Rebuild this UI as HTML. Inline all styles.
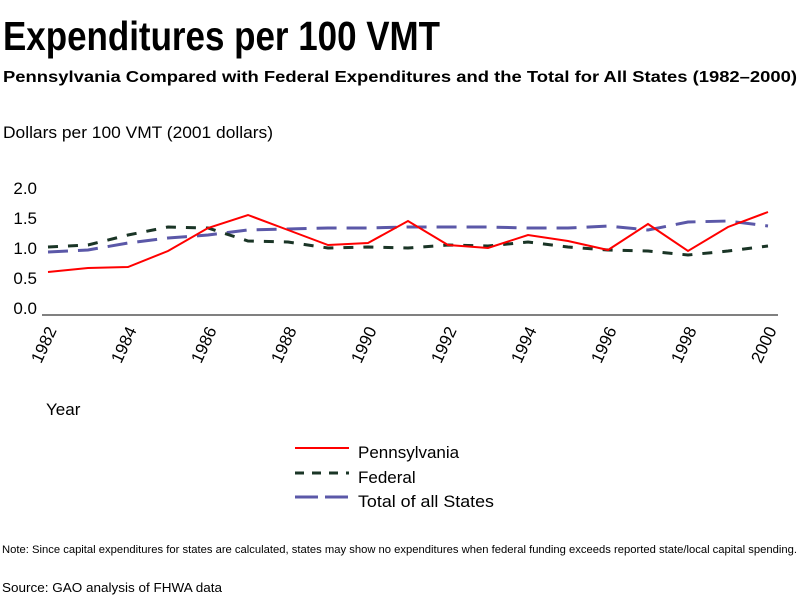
<!DOCTYPE html>
<html><head><meta charset="utf-8"><style>html,body{margin:0;padding:0;background:#fff}svg{display:block}</style></head>
<body>
<svg width="800" height="600" xmlns="http://www.w3.org/2000/svg" font-family="Liberation Sans, sans-serif">
<rect width="800" height="600" fill="#fff"/>
<text x="3" y="50" font-size="41" font-weight="bold" textLength="437" lengthAdjust="spacingAndGlyphs">Expenditures per 100 VMT</text>
<text x="3" y="82" font-size="16" font-weight="bold" textLength="794" lengthAdjust="spacingAndGlyphs">Pennsylvania Compared with Federal Expenditures and the Total for All States (1982–2000)</text>
<text x="3" y="138" font-size="17" textLength="270" lengthAdjust="spacingAndGlyphs">Dollars per 100 VMT (2001 dollars)</text>
<g font-size="17" text-anchor="end">
<text x="37" y="194">2.0</text><text x="37" y="224">1.5</text><text x="37" y="254">1.0</text><text x="37" y="284">0.5</text><text x="37" y="314">0.0</text>
</g>
<line x1="42" y1="315" x2="778" y2="315" stroke="#000" stroke-width="1"/>
<g font-size="17" text-anchor="end">
<text transform="translate(57,330) rotate(-65)">1982</text>
<text transform="translate(137,330) rotate(-65)">1984</text>
<text transform="translate(217,330) rotate(-65)">1986</text>
<text transform="translate(297,330) rotate(-65)">1988</text>
<text transform="translate(377,330) rotate(-65)">1990</text>
<text transform="translate(457,330) rotate(-65)">1992</text>
<text transform="translate(537,330) rotate(-65)">1994</text>
<text transform="translate(617,330) rotate(-65)">1996</text>
<text transform="translate(697,330) rotate(-65)">1998</text>
<text transform="translate(777,330) rotate(-65)">2000</text>
</g>
<polyline fill="none" stroke="#5b58a8" stroke-width="3" stroke-dasharray="20,10" points="48,252 88,250 128,243 168,238 208,235 248,230 288,229 328,228 368,228 408,227 448,227 488,227 528,228 568,228 608,226 648,230 688,222 728,221 768,226"/>
<polyline fill="none" stroke="#1a3526" stroke-width="3" stroke-dasharray="10,10" points="48,247 88,245 128,235 168,227 208,228 248,241 288,242 328,248 368,247 408,248 448,245 488,246 528,242 568,247 608,250 648,251 688,255 728,251 768,246"/>
<polyline fill="none" stroke="#ff0000" stroke-width="2" points="48,272 88,268 128,267 168,251 208,228 248,215 288,230 328,245 368,243 408,221 448,245 488,248 528,235 568,241 608,250 648,224 688,251 728,227 768,212"/>
<text x="46" y="415" font-size="17">Year</text>
<line x1="295" y1="448" x2="349" y2="448" stroke="#ff0000" stroke-width="2"/>
<line x1="295" y1="473" x2="349" y2="473" stroke="#1a3526" stroke-width="3" stroke-dasharray="9,8"/>
<line x1="295" y1="497" x2="349" y2="497" stroke="#5b58a8" stroke-width="3" stroke-dasharray="23,7"/>
<g font-size="17"><text x="358" y="458">Pennsylvania</text><text x="358" y="483">Federal</text><text x="358" y="507" textLength="136" lengthAdjust="spacingAndGlyphs">Total of all States</text></g>
<text x="2" y="553" font-size="11" textLength="795" lengthAdjust="spacingAndGlyphs">Note: Since capital expenditures for states are calculated, states may show no expenditures when federal funding exceeds reported state/local capital spending.</text>
<text x="2" y="592" font-size="13" textLength="220" lengthAdjust="spacingAndGlyphs">Source: GAO analysis of FHWA data</text>
</svg>
</body></html>
